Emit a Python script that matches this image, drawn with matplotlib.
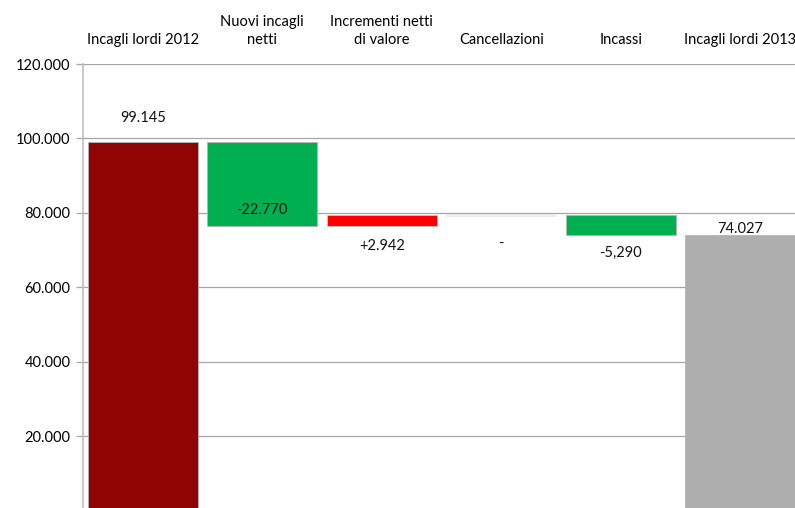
import matplotlib.pyplot as plt
from matplotlib.ticker import FuncFormatter

plt.rcParams["font.family"] = ["Lato", "DejaVu Sans"]

# Waterfall of gross "incagli" between 2012 and 2013
categories = [
    "Incagli lordi 2012",
    "Nuovi incagli\nnetti",
    "Incrementi netti\ndi valore",
    "Cancellazioni",
    "Incassi",
    "Incagli lordi 2013",
]
start_value = 99145
changes = [-22770, 2942, 0, -5290]
end_value = 74027
value_labels = ["99.145", "-22.770", "+2.942", "-", "-5,290", "74.027"]

colors = ["#900404", "#00B050", "#FF0000", "#ECECEC", "#00B050", "#AEAEAE"]
edges = ["#B5B5B5", "#B5B5B5", "#C8C8C8", "none", "#B5B5B5", "#B5B5B5"]

# Build bottoms and heights of each floating bar
bottoms = [0]
heights = [start_value]
levels = [start_value]
level = start_value
for c in changes:
    new_level = level + c
    lo = min(level, new_level)
    h = abs(c)
    if h == 0:
        # zero step: draw a thin flat bar at the running level
        h = 700
        lo = level - 350
    bottoms.append(lo)
    heights.append(h)
    level = new_level
    levels.append(level)
bottoms.append(0)
heights.append(end_value)
levels.append(end_value)

fig = plt.figure(figsize=(7.95, 5.08), dpi=100)
ax = fig.add_axes([83 / 795, 0.0, 717 / 795, 1 - 64 / 508])

x = list(range(len(categories)))
ax.bar(x, heights, bottom=bottoms, width=0.92, color=colors,
       edgecolor=edges, linewidth=0.6, zorder=3)

# Value labels next to each bar (offsets in data units)
offsets = [6300, 4400, -8200, -7700, -4800, 1600]
for xi, lv, off, txt in zip(x, levels, offsets, value_labels):
    ax.text(xi, lv + off, txt, ha="center", va="center", fontsize=10.5,
            color="#111111", zorder=4)

ax.set_xlim(-0.5, len(categories) - 0.5)
ax.set_ylim(700, 120000)
ax.set_yticks([20000, 40000, 60000, 80000, 100000, 120000])
ax.yaxis.set_major_formatter(
    FuncFormatter(lambda v, p: f"{int(v):,}".replace(",", "."))
)
ax.yaxis.grid(True, color="#A6A6A6", linewidth=0.9, zorder=0)

ax.xaxis.tick_top()
ax.set_xticks(x)
ax.set_xticklabels(categories, fontsize=10.5, linespacing=1.35)
ax.tick_params(axis="x", length=0, pad=12)
ax.tick_params(axis="y", length=5, width=0.9, color="#A6A6A6",
               labelsize=10.5, pad=4)

for s in ["top", "right", "bottom"]:
    ax.spines[s].set_visible(False)
ax.spines["left"].set_color("#BFBFBF")
ax.spines["left"].set_linewidth(1.2)

fig.savefig("out.png", dpi=100)
